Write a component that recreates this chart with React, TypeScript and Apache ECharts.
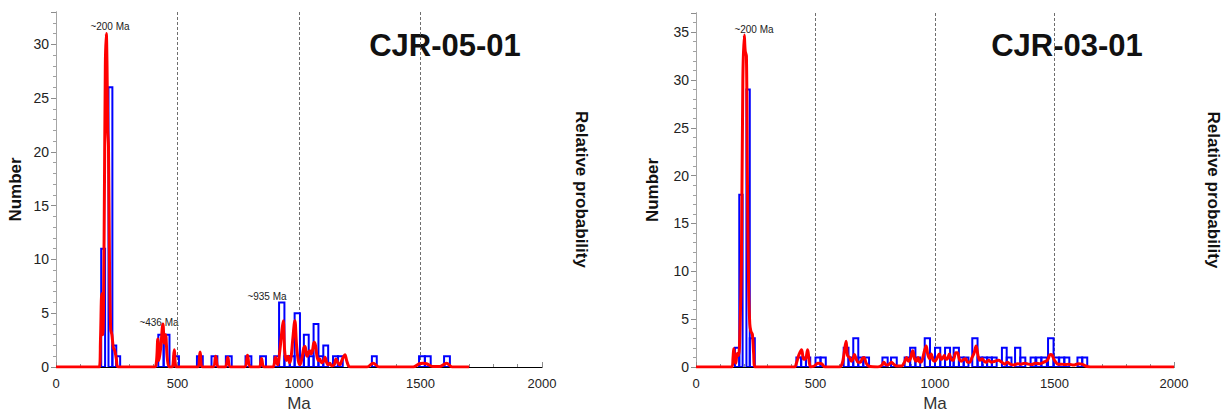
import React, { useEffect, useRef } from "react";
import * as echarts from "echarts";

// ---- Data ----
// Histogram bins: [fromAge (Ma), toAge (Ma), count]
const LEFT_BINS: [number, number, number][] = [
  [186, 202, 11], [216, 232, 26], [232, 248, 2], [248, 264, 1],
  [421, 443, 3], [443, 467, 3], [484, 506, 1],
  [580, 604, 1], [640, 664, 1], [699, 723, 1], [780, 804, 1], [840, 864, 1],
  [898, 918, 1], [918, 940, 6], [940, 962, 1], [962, 982, 1], [982, 1004, 5],
  [1004, 1020, 1], [1020, 1040, 3], [1040, 1060, 1], [1060, 1080, 4], [1080, 1100, 1],
  [1100, 1120, 2], [1140, 1160, 1], [1160, 1180, 1],
  [1300, 1320, 1], [1494, 1518, 1], [1518, 1542, 1], [1597, 1621, 1],
];

const RIGHT_BINS: [number, number, number][] = [
  [163, 181, 2], [181, 195, 18], [211, 225, 29], [225, 246, 3],
  [420, 440, 1], [440, 460, 1], [460, 478, 1],
  [500, 521, 1], [521, 543, 1],
  [618, 638, 2], [638, 658, 1], [658, 679, 3], [679, 700, 1], [700, 724, 1],
  [780, 802, 1], [816, 840, 1],
  [873, 896, 1], [896, 918, 2], [918, 938, 1], [957, 979, 3], [979, 1000, 1],
  [1000, 1022, 2], [1022, 1042, 1], [1042, 1063, 2], [1063, 1078, 1], [1078, 1100, 2],
  [1100, 1120, 1], [1120, 1140, 1], [1156, 1178, 3], [1178, 1198, 1], [1198, 1218, 1],
  [1218, 1238, 1], [1238, 1258, 1], [1280, 1300, 2], [1300, 1320, 1], [1335, 1357, 2],
  [1357, 1378, 1], [1400, 1420, 1], [1424, 1445, 1], [1445, 1468, 1], [1473, 1496, 3],
  [1496, 1518, 1], [1520, 1541, 1], [1541, 1562, 1], [1596, 1616, 1], [1616, 1637, 1],
];

// Relative probability curves: [age (Ma), value on the Number scale]
const LEFT_PDF: [number, number][] = [
  [0, 0], [178, 0], [183, 2.5], [188, 6.8], [193, 3], [198, 12], [203, 28], [207, 31], [210, 28],
  [213, 22], [216, 20.5], [220, 10], [225, 3.5], [230, 3], [236, 1.8], [242, 1.5], [248, 0.8], [256, 0],
  [405, 0], [413, 0.4], [419, 2.6], [424, 0.6], [431, 1.8], [440, 4], [446, 2.2], [451, 3], [458, 0.8],
  [466, 0], [478, 0], [487, 1.6], [496, 0],
  [582, 0], [593, 1.4], [604, 0], [646, 0], [657, 1], [668, 0], [696, 0], [707, 0.9], [718, 0],
  [776, 0], [788, 1.1], [800, 0], [836, 0], [846, 0.8], [856, 0], [892, 0], [903, 0.9], [912, 0.2],
  [921, 1.5], [928, 3], [935, 4.3], [941, 1.5], [948, 0.6], [955, 1], [961, 0.4], [967, 0.8],
  [974, 2.5], [983, 4.3], [990, 2], [997, 0.6], [1004, 0.2], [1012, 0.8], [1020, 1.8], [1025, 1.9],
  [1030, 1.2], [1034, 1.0], [1040, 1.4], [1045, 1.5], [1050, 1.2], [1056, 1.6], [1062, 2.3],
  [1068, 2.0], [1074, 1.0], [1080, 0.6], [1086, 0.75], [1092, 0.4], [1100, 0.5], [1107, 0.9],
  [1114, 0.4], [1120, 0.2], [1127, 0.35], [1135, 0.1], [1145, 0.2], [1152, 0.75], [1160, 0.4],
  [1168, 0.2], [1176, 0.6], [1182, 0.9], [1189, 1.15], [1196, 0.6], [1204, 0.1], [1212, 0],
  [1280, 0], [1305, 0.35], [1330, 0], [1470, 0], [1495, 0.3], [1510, 0.35], [1525, 0.3],
  [1550, 0.05], [1580, 0.05], [1607, 0.35], [1630, 0], [1700, 0],
];

const RIGHT_PDF: [number, number][] = [
  [0, 0], [150, 0], [155, 1.0], [158, 1.9], [162, 0.8], [167, 0.4], [172, 1.4], [178, 1.2],
  [184, 4], [190, 11], [196, 30], [202, 34.7], [206, 33], [211, 32.5], [215, 20], [220, 8.8],
  [225, 4.5], [230, 3.7], [236, 3.4], [241, 1.5], [247, 0],
  [412, 0], [420, 0.4], [431, 1.3], [442, 1.8], [450, 0.8], [457, 0.8], [467, 1.8], [474, 0.5],
  [480, 0], [495, 0.1], [510, 0.4], [525, 0.35], [540, 0], [600, 0], [612, 0.4], [620, 1.5],
  [628, 2.7], [634, 1.2], [642, 1.0], [650, 0.6], [656, 0.8], [663, 1.3], [670, 0.85], [678, 0.5],
  [688, 0.5], [696, 0.9], [703, 1.0], [712, 0.4], [722, 0.1], [760, 0], [778, 0.2], [786, 0.5],
  [796, 0.2], [806, 0.25], [818, 0.5], [827, 0.3], [840, 0.1], [860, 0.1], [872, 0.5], [881, 1.0],
  [889, 0.6], [896, 0.8], [907, 1.7], [915, 0.8], [922, 0.6], [929, 1.0], [937, 0.5], [945, 0.6],
  [955, 1.6], [963, 2.2], [970, 1.3], [977, 0.9], [984, 1.35], [992, 0.7], [1000, 0.6], [1008, 0.9],
  [1018, 1.35], [1026, 0.8], [1032, 0.9], [1039, 1.2], [1046, 0.8], [1053, 0.9], [1060, 1.35],
  [1068, 0.8], [1076, 0.7], [1087, 1.5], [1094, 1.5], [1102, 0.8], [1110, 0.6], [1120, 0.8],
  [1128, 0.85], [1136, 0.5], [1145, 0.5], [1155, 1.0], [1164, 1.5], [1172, 2.2], [1180, 1.2],
  [1188, 0.7], [1197, 0.85], [1206, 0.6], [1214, 0.5], [1224, 0.7], [1236, 0.5], [1250, 0.6],
  [1265, 0.7], [1280, 0.5], [1292, 0.3], [1302, 0.5], [1315, 0.3], [1330, 0.2], [1345, 0.35],
  [1360, 0.3], [1375, 0.4], [1390, 0.3], [1405, 0.25], [1420, 0.4], [1440, 0.35], [1455, 0.5],
  [1470, 0.7], [1483, 1.3], [1490, 1.25], [1500, 0.7], [1515, 0.3], [1530, 0.3], [1545, 0.25],
  [1560, 0.3], [1580, 0.2], [1600, 0.35], [1615, 0.3], [1630, 0.1], [1650, 0], [2000, 0],
];

const SAMPLE_NAMES = ["CJR-05-01", "CJR-03-01"];
const PEAK_LABELS_LEFT = ["~200 Ma", "~436 Ma", "~935 Ma"];
const PEAK_LABELS_RIGHT = ["~200 Ma"];
const X_MIN = 0;
const X_MAX = 2000;
const X_STEP = 500;
const Y_MAX = [33, 37];
const Y_STEP = 5;

const FONT = "'Liberation Sans', Arial, sans-serif";

function bottomXAxis(gridIndex: number) {
  return {
    type: "value",
    gridIndex,
    position: "bottom",
    min: X_MIN,
    max: X_MAX,
    interval: X_STEP,
    axisLine: { show: true, lineStyle: { color: "#a6a6a6", width: 1 } },
    axisTick: { show: true, inside: true, length: 5, lineStyle: { color: "#8c8c8c" } },
    minorTick: { show: true, splitNumber: 5, length: 3, lineStyle: { color: "#8c8c8c" } },
    axisLabel: {
      color: "#222",
      fontSize: 13,
      fontFamily: FONT,
      margin: 10,
      formatter: (v: number) => String(v),
    },
    splitLine: {
      show: true,
      showMinLine: false,
      showMaxLine: false,
      lineStyle: { color: "#6e6e6e", width: 1, type: [3, 2] },
    },
    name: "Ma",
    nameLocation: "middle",
    nameGap: 28,
    nameTextStyle: { color: "#333", fontSize: 17, fontFamily: FONT },
  };
}

function topXAxis(gridIndex: number) {
  return {
    type: "value",
    gridIndex,
    position: "top",
    min: X_MIN,
    max: X_MAX,
    axisLine: { show: true, lineStyle: { color: "#000", width: 1 } },
    axisTick: { show: false },
    axisLabel: { show: false },
    splitLine: { show: false },
  };
}

function leftYAxis(gridIndex: number, max: number, nameGap: number) {
  return {
    type: "value",
    gridIndex,
    position: "left",
    min: 0,
    max,
    interval: Y_STEP,
    axisLine: { show: true, lineStyle: { color: "#8c8c8c", width: 1 } },
    axisTick: { show: true, length: 5, lineStyle: { color: "#8c8c8c" } },
    minorTick: { show: true, splitNumber: 5, length: 3, lineStyle: { color: "#a0a0a0" } },
    axisLabel: { color: "#222", fontSize: 14, fontFamily: FONT, margin: 7, showMaxLabel: false },
    splitLine: { show: false },
    name: "Number",
    nameLocation: "middle",
    nameGap,
    nameTextStyle: { color: "#111", fontSize: 17, fontWeight: "bold", fontFamily: FONT },
  };
}

function rightYAxis(gridIndex: number, max: number) {
  return {
    type: "value",
    gridIndex,
    position: "right",
    min: 0,
    max,
    axisLine: { show: true, lineStyle: { color: "#a6a6a6", width: 1 } },
    axisTick: { show: false },
    axisLabel: { show: false },
    splitLine: { show: false },
    name: "Relative probability",
    nameLocation: "middle",
    nameRotate: -90,
    nameGap: 31,
    nameTextStyle: { color: "#111", fontSize: 17, fontWeight: "bold", fontFamily: FONT },
  };
}

function histSeries(bins: [number, number, number][], xAxisIndex: number, yAxisIndex: number) {
  return {
    type: "custom",
    xAxisIndex,
    yAxisIndex,
    z: 2,
    clip: true,
    data: bins,
    renderItem: (_params: any, api: any) => {
      const p0 = api.coord([api.value(0), api.value(2)]);
      const p1 = api.coord([api.value(1), 0]);
      return {
        type: "rect",
        shape: { x: p0[0], y: p0[1], width: p1[0] - p0[0], height: p1[1] - p0[1] },
        style: { fill: "none", stroke: "#0000ff", lineWidth: 2 },
      };
    },
  };
}

function pdfSeries(pdf: [number, number][], xAxisIndex: number, yAxisIndex: number) {
  return {
    type: "line",
    xAxisIndex,
    yAxisIndex,
    z: 3,
    data: pdf,
    showSymbol: false,
    smooth: 0.35,
    lineStyle: { color: "#ff0000", width: 3 },
  };
}

export default function App() {
  const ref = useRef<HTMLDivElement>(null);

  useEffect(() => {
    if (!ref.current) return;
    const chart = echarts.init(ref.current, null, { renderer: "svg" });
    const labelStyle = { fill: "#222", fontSize: 10, fontFamily: FONT, align: "center", verticalAlign: "middle" };
    const titleStyle = { fill: "#111", fontSize: 31, fontWeight: "bold", fontFamily: FONT, align: "center", verticalAlign: "middle" };
    chart.setOption({
      animation: false,
      backgroundColor: "#ffffff",
      grid: [
        { left: 56, top: 12, width: 486, height: 368 },
        { left: 696, top: 13, width: 485, height: 367 },
      ],
      xAxis: [bottomXAxis(0), bottomXAxis(1), topXAxis(0), topXAxis(1)],
      yAxis: [
        leftYAxis(0, Y_MAX[0], 32),
        leftYAxis(1, Y_MAX[1], 35),
        rightYAxis(0, Y_MAX[0]),
        rightYAxis(1, Y_MAX[1]),
      ],
      series: [
        histSeries(LEFT_BINS, 0, 0),
        pdfSeries(LEFT_PDF, 0, 0),
        histSeries(RIGHT_BINS, 1, 1),
        pdfSeries(RIGHT_PDF, 1, 1),
      ],
      graphic: [
        { type: "text", x: 445, y: 45, style: { text: SAMPLE_NAMES[0], ...titleStyle } },
        { type: "text", x: 1067, y: 45, style: { text: SAMPLE_NAMES[1], ...titleStyle } },
        { type: "text", x: 110, y: 26, style: { text: PEAK_LABELS_LEFT[0], ...labelStyle } },
        { type: "text", x: 159, y: 322, style: { text: PEAK_LABELS_LEFT[1], ...labelStyle } },
        { type: "text", x: 267, y: 296, style: { text: PEAK_LABELS_LEFT[2], ...labelStyle } },
        { type: "text", x: 754, y: 29, style: { text: PEAK_LABELS_RIGHT[0], ...labelStyle } },
      ],
    });
    return () => chart.dispose();
  }, []);

  return (
    <div
      ref={ref}
      style={{ position: "absolute", left: 0, top: 0, width: 1223, height: 417, background: "#fff" }}
    />
  );
}
